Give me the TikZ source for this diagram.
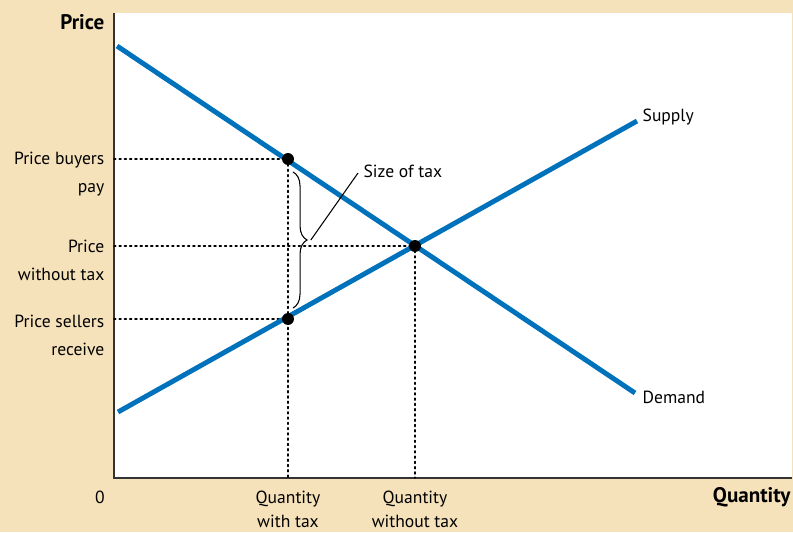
\documentclass[tikz,border=0pt]{standalone}
\usepackage{fontspec}
\setmainfont{PT Sans}
\usetikzlibrary{calc,decorations.pathreplacing}
\definecolor{bgtan}{RGB}{246,226,186}
\definecolor{curveblue}{RGB}{0,114,188}
\tikzset{every picture/.style={line width=0.75pt}}
\tikzset{
  curve/.style={curveblue, line width=2.8pt},
  guide/.style={dotted, line width=1pt, line cap=round},
  eqdot/.style={fill=black},
  lab/.style={font=\fontsize{10}{15.8}\selectfont, inner sep=0pt},
  qlab/.style={font=\fontsize{10}{14}\selectfont, inner sep=0pt, anchor=north, align=center},
  axlab/.style={font=\fontsize{12}{14}\selectfont\bfseries, inner sep=0pt},
}

\begin{document}
\begin{tikzpicture}[x=0.02cm, y=0.02cm]
    % 背景
    \fill[bgtan] (-114,-54) rectangle (679,478);
    \useasboundingbox (-114,-54) rectangle (679,478);
    \fill[white] (0,0) rectangle (678,465);

    % 坐标轴
    \coordinate (O) at (0,0);
    \coordinate (ytop) at (0,465);
    \coordinate (xend) at (678,0);
    \draw[black!80, line width=0.9pt] (ytop) -- (O) -- (xend);

    % 需求与供给
    \coordinate (d1) at (3,432);
    \coordinate (d2) at (521,85);
    \coordinate (s1) at (4,66);
    \coordinate (s2) at (523,357);
    \coordinate (E) at (301,232);
    \coordinate (B) at (174,319);
    \coordinate (S) at (174,159);

    % 虚线
    \draw[guide] (0,319) -- (B) -- (174,0);
    \draw[guide] (0,232) -- (E) -- (301,0);
    \draw[guide] (0,159) -- (S);

    \draw[curve] (d1) -- (d2);
    \draw[curve] (s1) -- (s2);

    % 交点
    \fill[eqdot] (B) circle (3.4pt);
    \fill[eqdot] (S) circle (3.4pt);
    \fill[eqdot] (E) circle (3.4pt);

    % 税额括号
    \draw[decorate, decoration={brace, amplitude=8pt}, line width=0.6pt] (179,306) -- (179,170) coordinate[midway, xshift=9pt] (tip);
    \coordinate (lead) at (244,305);
    \draw[line width=0.6pt] ($(tip)+(2,0)$) -- (lead);
    \node[lab, anchor=west] (tax) at (249,307) {Size of tax};

    % 曲线标注
    \node[lab, anchor=west] (supply) at (528,361) {Supply};
    \node[lab, anchor=west] (demand) at (528,81) {Demand};

    % 纵轴标注
    \node[axlab, anchor=east] (price) at (-9,456) {Price};
    \node[lab, anchor=east, align=right] (pb) at (-9,304) {Price buyers\\pay};
    \node[lab, anchor=east, align=right] (pw) at (-9,218) {Price\\without tax};
    \node[lab, anchor=east, align=right] (ps) at (-9,143) {Price sellers\\receive};

    % 横轴标注
    \node[lab] (zero) at (-14,-19) {0};
    \node[qlab] (qw) at (174,-12) {Quantity\\with tax};
    \node[qlab] (qn) at (301,-12) {Quantity\\without tax};
    \node[axlab, anchor=east] (qty) at (677,-19) {Quantity};
\end{tikzpicture}
\end{document}
